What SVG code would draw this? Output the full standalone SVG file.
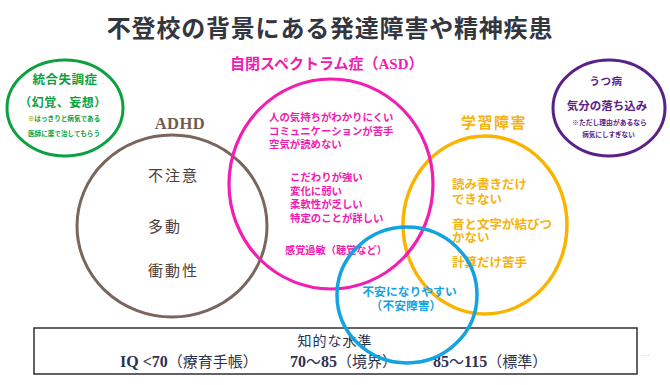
<svg xmlns="http://www.w3.org/2000/svg" width="670" height="385" viewBox="0 0 670 385">
<style>
.jp{font-family:"Noto Sans CJK JP","Noto Sans",sans-serif}
.ser{font-family:"Liberation Serif","Noto Sans CJK JP",serif}
.ring{fill:none}
.pk{fill:#f01cb0;font-weight:bold}
.or{fill:#f6b20f;font-weight:bold}
.bl{fill:#14a3e0;font-weight:bold}
.gr{fill:#0ca03e;font-weight:bold}
.pu{fill:#5a2288;font-weight:bold}
.br{fill:#4d403a}
.nv{fill:#2c3150}
</style>
<rect width="670" height="385" fill="#ffffff"/>
<text class="jp" x="330" y="37" font-size="24" font-weight="bold" fill="#33363f" text-anchor="middle" letter-spacing="0.8">不登校の背景にある発達障害や精神疾患</text>

<g id="schizophrenia">
<ellipse class="ring" cx="65" cy="108" rx="58" ry="48" stroke="#0ca03e" stroke-width="3"/>
<text class="jp gr" x="65" y="84" font-size="12.5" text-anchor="middle" letter-spacing="0.5">統合失調症</text>
<text class="jp gr" x="63" y="107" font-size="12" text-anchor="middle" letter-spacing="0.5">（幻覚、妄想）</text>
<text class="jp gr" x="64" y="121" font-size="6.6" text-anchor="middle">※はっきりと病気である</text>
<text class="jp gr" x="64" y="135.5" font-size="6.6" text-anchor="middle">医師に薬で治してもらう</text>
</g>

<g id="depression">
<ellipse class="ring" cx="609" cy="108" rx="56" ry="48" stroke="#5a2288" stroke-width="3"/>
<text class="jp pu" x="606" y="85" font-size="10.5" text-anchor="middle" letter-spacing="0.5">うつ病</text>
<text class="jp pu" x="607" y="109.5" font-size="11.5" text-anchor="middle">気分の落ち込み</text>
<text class="jp pu" x="609.5" y="124.5" font-size="6.8" text-anchor="middle">※ただし理由があるなら</text>
<text class="jp pu" x="608.5" y="136.5" font-size="6.6" text-anchor="middle">病気にしすぎない</text>
</g>

<g id="adhd">
<ellipse class="ring" cx="172" cy="226" rx="95" ry="91" stroke="#7a665c" stroke-width="3"/>
<text class="ser" x="180" y="128.5" font-size="16.5" font-weight="bold" fill="#6e5c52" text-anchor="middle" letter-spacing="0.5">ADHD</text>
<text class="jp br" x="148" y="181" font-size="15" letter-spacing="2">不注意</text>
<text class="jp br" x="148" y="232" font-size="15" letter-spacing="2">多動</text>
<text class="jp br" x="148" y="276" font-size="15" letter-spacing="2">衝動性</text>
</g>

<g id="ld">
<ellipse class="ring" cx="485" cy="225" rx="82" ry="89" stroke="#fab400" stroke-width="3.5"/>
<text class="jp or" x="461" y="128" font-size="15" letter-spacing="1.5">学習障害</text>
<text class="jp or" x="452" y="189" font-size="12.5">読み書きだけ</text>
<text class="jp or" x="452" y="204" font-size="12.5">できない</text>
<text class="jp or" x="452" y="229" font-size="12.5">音と文字が結びつ</text>
<text class="jp or" x="452" y="242" font-size="12.5">かない</text>
<text class="jp or" x="452" y="267" font-size="12.5">計算だけ苦手</text>
</g>

<g id="asd">
<ellipse class="ring" cx="331" cy="184" rx="102" ry="105" stroke="#f21db2" stroke-width="3.2"/>
<text class="jp pk" x="230" y="69" font-size="15">自閉スペクトラム症（<tspan class="ser" font-weight="bold">ASD</tspan>）</text>
<text class="jp pk" x="269" y="121" font-size="10.4">人の気持ちがわかりにくい</text>
<text class="jp pk" x="269" y="134.5" font-size="10.4">コミュニケーションが苦手</text>
<text class="jp pk" x="269" y="148" font-size="10.4">空気が読めない</text>
<text class="jp pk" x="290" y="181" font-size="10.4">こだわりが強い</text>
<text class="jp pk" x="290" y="194.5" font-size="10.4">変化に弱い</text>
<text class="jp pk" x="290" y="208" font-size="10.4">柔軟性が乏しい</text>
<text class="jp pk" x="290" y="221.5" font-size="10.4">特定のことが詳しい</text>
<text class="jp pk" x="285" y="254" font-size="10.2">感覚過敏（聴覚など）</text>
</g>

<g id="iq-scale">
<rect x="34" y="328" width="603" height="46" fill="#ffffff" stroke="#2f2f33" stroke-width="1.5"/>
<text class="jp nv" x="335" y="345.5" font-size="14" text-anchor="middle" letter-spacing="1">知的な水準</text>
<text class="nv" y="367" font-size="16"><tspan class="ser" x="120" font-weight="bold">IQ &lt;70</tspan><tspan class="jp" font-size="15">（療育手帳）</tspan></text>
<text class="nv" y="367" font-size="16"><tspan class="ser" x="290" font-weight="bold">70</tspan><tspan class="jp" font-size="15">〜</tspan><tspan class="ser" font-weight="bold">85</tspan><tspan class="jp" font-size="15">（境界）</tspan></text>
<text class="nv" y="367" font-size="16"><tspan class="ser" x="433" font-weight="bold">85</tspan><tspan class="jp" font-size="15">〜</tspan><tspan class="ser" font-weight="bold">115</tspan><tspan class="jp" font-size="15">（標準）</tspan></text>
<text class="jp" x="646" y="359" font-size="8" fill="#c4c8d4" text-anchor="middle">…</text>
</g>

<g id="anxiety">
<ellipse class="ring" cx="407" cy="295" rx="70" ry="68" stroke="#14a3e0" stroke-width="3.5"/>
<text class="jp bl" x="409.5" y="296" font-size="11.8" text-anchor="middle">不安になりやすい</text>
<text class="jp bl" x="406" y="310" font-size="11.8" text-anchor="middle">（不安障害）</text>
</g>
<g id="connectors"/>
</svg>
